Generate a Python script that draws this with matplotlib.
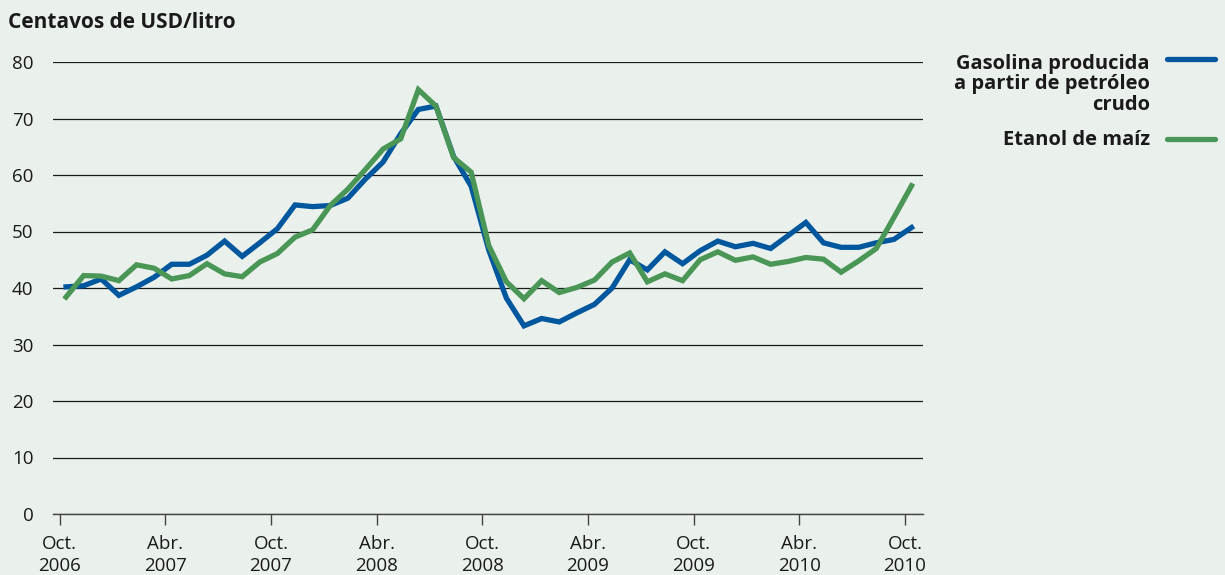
import numpy as np
import matplotlib.pyplot as plt
from matplotlib.lines import Line2D

# Monthly prices, Oct. 2006 - Oct. 2010 (US cents per litre)
gasoline = [40.2, 40.4, 41.6, 38.7, 40.2, 41.9, 44.2, 44.2, 45.8, 48.3,
            45.6, 48.0, 50.5, 54.7, 54.4, 54.6, 55.9, 59.3, 62.3, 67.3,
            71.6, 72.2, 63.3, 58.0, 46.7, 38.2, 33.3, 34.6, 34.0, 35.6,
            37.1, 40.0, 45.0, 43.2, 46.4, 44.3, 46.6, 48.3, 47.3, 47.9,
            47.0, 49.3, 51.6, 48.0, 47.2, 47.2, 48.0, 48.6, 50.7]
ethanol = [38.4, 42.2, 42.1, 41.3, 44.1, 43.5, 41.6, 42.2, 44.3, 42.5,
           42.0, 44.6, 46.1, 49.0, 50.3, 54.6, 57.5, 61.0, 64.6, 66.4,
           75.1, 72.2, 63.1, 60.5, 47.5, 41.1, 38.1, 41.3, 39.2, 40.1,
           41.4, 44.6, 46.2, 41.1, 42.5, 41.3, 45.0, 46.4, 44.9, 45.5,
           44.2, 44.7, 45.4, 45.1, 42.8, 44.8, 47.0, 52.5, 58.1]
tick_labels = ['Oct.\n2006', 'Abr.\n2007', 'Oct.\n2007', 'Abr.\n2008', 'Oct.\n2008',
               'Abr.\n2009', 'Oct.\n2009', 'Abr.\n2010', 'Oct.\n2010']
series_names = ['Gasolina producida\na partir de petróleo\ncrudo', 'Etanol de maíz']

BG = '#EAF0EB'
BLUE = '#00579E'
GREEN = '#4A9656'
INK = '#1A1A1A'

plt.rcParams['font.family'] = ['Open Sans', 'DejaVu Sans']

fig = plt.figure(figsize=(12.25, 5.75), dpi=100, facecolor=BG)
ax = fig.add_axes([53 / 1225, 61 / 575, 870 / 1225, 452 / 575], facecolor=BG)

# samples sit about a third of a month after each tick
x = np.arange(len(gasoline)) + 0.37
ax.plot(x, gasoline, color=BLUE, lw=3.8, solid_joinstyle='miter', zorder=3)
ax.plot(x, ethanol, color=GREEN, lw=3.8, solid_joinstyle='miter', zorder=4)

ax.set_xlim(-0.37, 49.02)
ax.set_ylim(0, 80)

ax.set_yticks(range(0, 81, 10))
ax.tick_params(axis='y', length=0, pad=14, labelsize=13.5, colors=INK)
ax.yaxis.grid(True, color=INK, lw=0.9)
ax.set_axisbelow(True)

ax.set_xticks(range(0, 49, 6))
ax.set_xticklabels(tick_labels, linespacing=1.3)
ax.tick_params(axis='x', length=8, width=1, direction='out', pad=7,
               labelsize=13.5, colors=INK, color='#444444')

for s in ['top', 'right', 'left']:
    ax.spines[s].set_visible(False)
ax.spines['bottom'].set_color('#444444')
ax.spines['bottom'].set_linewidth(1)

fig.text(8 / 1225, 1 - 27.5 / 575, 'Centavos de USD/litro', fontsize=15,
         fontweight='bold', va='baseline', ha='left', color=INK)

# legend drawn by hand at the right margin
fig.text(1150 / 1225, 1 - 110 / 575, series_names[0], fontsize=14.5, fontweight='bold',
         ha='right', va='baseline', color=INK, linespacing=1.05)
fig.text(1150 / 1225, 1 - 145 / 575, series_names[1], fontsize=14.5, fontweight='bold',
         ha='right', va='baseline', color=INK)
for yy, col in [(59, BLUE), (139, GREEN)]:
    fig.add_artist(Line2D([1167 / 1225, 1215 / 1225], [1 - yy / 575] * 2, color=col,
                          lw=3.8, solid_capstyle='round', transform=fig.transFigure))

fig.savefig('out.png', dpi=100, facecolor=BG)
